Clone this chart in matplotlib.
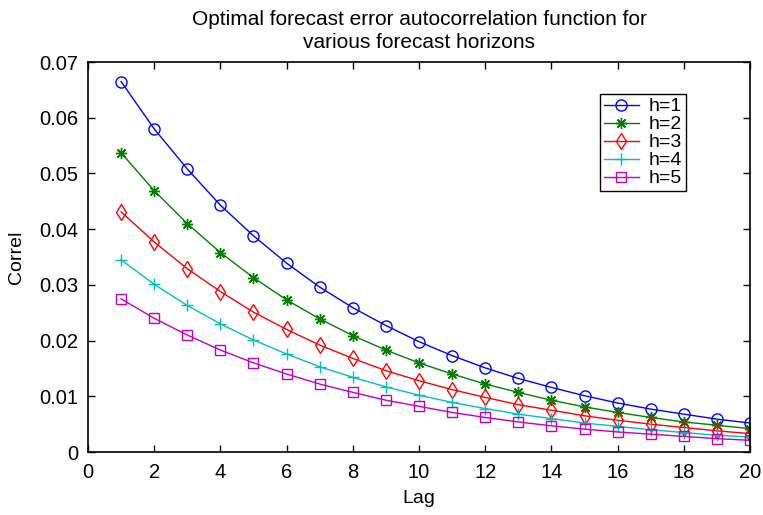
import matplotlib.pyplot as plt
import numpy as np

plt.rcParams['font.family'] = ['Liberation Sans', 'DejaVu Sans']

lag = np.arange(1, 21)

h1 = [0.0665, 0.0580, 0.0508, 0.0443, 0.0388, 0.0339, 0.0296, 0.0259, 0.0227, 0.0198,
      0.0173, 0.0151, 0.0132, 0.0116, 0.0101, 0.0088, 0.0077, 0.0068, 0.0059, 0.0052]
h2 = [0.0537, 0.0469, 0.0410, 0.0358, 0.0313, 0.0273, 0.0239, 0.0209, 0.0183, 0.0160,
      0.0140, 0.0122, 0.0107, 0.0093, 0.0081, 0.0071, 0.0062, 0.0054, 0.0048, 0.0042]
h3 = [0.0431, 0.0377, 0.0329, 0.0288, 0.0251, 0.0220, 0.0192, 0.0168, 0.0146, 0.0128,
      0.0112, 0.0098, 0.0085, 0.0075, 0.0065, 0.0057, 0.0050, 0.0044, 0.0038, 0.0033]
h4 = [0.0345, 0.0301, 0.0263, 0.0230, 0.0201, 0.0176, 0.0153, 0.0134, 0.0117, 0.0102,
      0.0089, 0.0078, 0.0068, 0.0060, 0.0052, 0.0046, 0.0040, 0.0035, 0.0030, 0.0027]
h5 = [0.0275, 0.0240, 0.0210, 0.0183, 0.0160, 0.0140, 0.0122, 0.0107, 0.0093, 0.0082,
      0.0071, 0.0062, 0.0054, 0.0047, 0.0041, 0.0036, 0.0032, 0.0028, 0.0024, 0.0021]

series = [h1, h2, h3, h4, h5]
labels = ['h=1', 'h=2', 'h=3', 'h=4', 'h=5']
colors = ['#0000ff', '#007f00', '#ff0000', '#00bfbf', '#bf00bf']
# asterisk with 8 arms, like '+' and 'x' drawn on top of each other
markers = ['o', (8, 2, 0), 'd', '+', 's']
msizes = [8, 8, 8, 9, 6.5]

fig = plt.figure(figsize=(7.63, 5.15), dpi=100)
ax = fig.add_axes([0.1153, 0.1223, 0.8677, 0.7573])

for y, lab, c, m, ms in zip(series, labels, colors, markers, msizes):
    ax.plot(lag, y, color=c, marker=m, markersize=ms, markerfacecolor='none',
            markeredgecolor=c, markeredgewidth=1.0, linewidth=1.0, label=lab)

ax.set_xlim(0, 20)
ax.set_ylim(0, 0.07)
ax.set_xticks(np.arange(0, 21, 2))
ax.set_yticks(np.arange(0, 0.071, 0.01))
ax.set_yticklabels(['0', '0.01', '0.02', '0.03', '0.04', '0.05', '0.06', '0.07'])
ax.tick_params(direction='in', top=True, right=True, labelsize=14.5, length=5, width=1)
ax.tick_params(axis='y', pad=7)
ax.tick_params(axis='x', pad=8)
for s in ax.spines.values():
    s.set_linewidth(1.2)

ax.set_xlabel('Lag', fontsize=14, labelpad=6)
ax.set_ylabel('Correl', fontsize=14, labelpad=10)
ax.set_title('Optimal forecast error autocorrelation function for\nvarious forecast horizons',
             fontsize=15, pad=10, linespacing=1.25)

leg = ax.legend(loc='upper right', bbox_to_anchor=(0.903, 0.918), fontsize=14,
                fancybox=False, framealpha=1, edgecolor='black',
                handlelength=1.8, handletextpad=0.5, labelspacing=0.02,
                borderpad=0.2, borderaxespad=0)
leg.get_frame().set_linewidth(1.0)

plt.savefig('out.png', dpi=100)
